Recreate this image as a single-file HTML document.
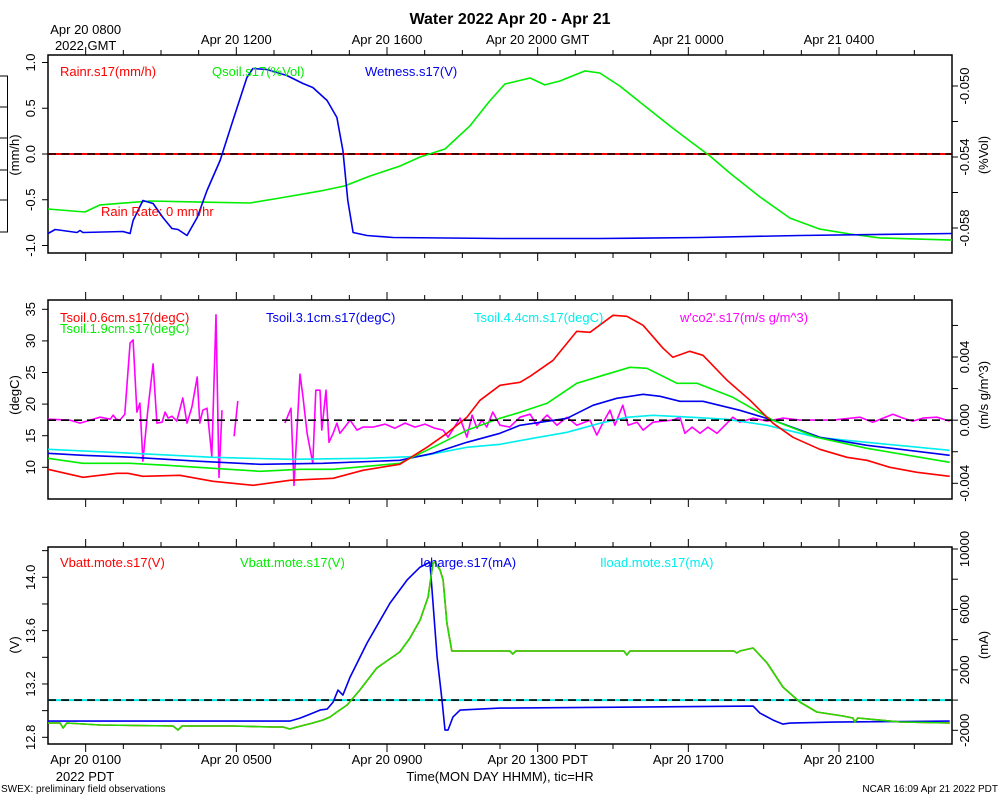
<!DOCTYPE html>
<html><head><meta charset="utf-8"><title>Water 2022 Apr 20 - Apr 21</title>
<style>
html,body{margin:0;padding:0;background:#fff;}
svg{display:block;font-family:"Liberation Sans",Arial,sans-serif;}
</style></head>
<body>
<svg id="chart" width="1000" height="800" viewBox="0 0 1000 800" xmlns="http://www.w3.org/2000/svg">
<rect x="0" y="0" width="1000" height="800" fill="#fff"/>
<text x="510" y="24" font-size="16" font-weight="bold" text-anchor="middle">Water 2022 Apr 20 - Apr 21</text>
<g stroke="#000" stroke-width="1">
<line x1="7.5" y1="76" x2="7.5" y2="232"/>
<line x1="0" y1="76" x2="8" y2="76"/><line x1="0" y1="107" x2="8" y2="107"/><line x1="0" y1="138" x2="8" y2="138"/>
<line x1="0" y1="170" x2="8" y2="170"/><line x1="0" y1="200" x2="8" y2="200"/><line x1="0" y1="232" x2="8" y2="232"/>
</g>
<g id="plots"></g>
<text x="500" y="781" font-size="13" text-anchor="middle">Time(MON DAY HHMM), tic=HR</text>
<text x="85" y="781" font-size="13" text-anchor="middle">2022 PDT</text>
<text x="1" y="792" font-size="10">SWEX: preliminary field observations</text>
<text x="998" y="792" font-size="10" text-anchor="end">NCAR 16:09 Apr 21 2022 PDT</text>
</svg>
<script>
// ---- data (hours since Apr 20 0000 PDT) ----
const topTickLabels = ["Apr 20 0800","Apr 20 1200","Apr 20 1600","Apr 20 2000 GMT","Apr 21 0000","Apr 21 0400"];
const bottomTickLabels = ["Apr 20 0100","Apr 20 0500","Apr 20 0900","Apr 20 1300 PDT","Apr 20 1700","Apr 20 2100"];
const labelHours = [1,5,9,13,17,21];

const wetT = [0,0.19,0.77,0.85,0.93,1.99,2.18,2.26,2.52,2.79,3.05,3.29,3.45,3.69,3.96,4.22,4.57,4.91,5.28,5.44,5.81,6.34,6.77,7.03,7.41,7.67,7.83,7.96,8.10,8.47,9.16,12.0,14.65,17.31,19.96,24];
const wetV = [-0.869,-0.825,-0.858,-0.836,-0.858,-0.847,-0.869,-0.727,-0.508,-0.541,-0.694,-0.814,-0.825,-0.891,-0.694,-0.399,-0.071,0.366,0.836,0.934,0.923,0.858,0.770,0.727,0.585,0.399,0.038,-0.508,-0.858,-0.891,-0.913,-0.923,-0.923,-0.913,-0.891,-0.869];
const qsoilT = [0,0.98,1.38,2.71,4.03,5.36,6.16,7.22,7.88,8.55,9.34,9.88,10.54,11.2,11.73,12.13,12.8,13.19,13.59,13.86,14.26,14.65,15.18,15.85,16.51,17.04,17.57,18.1,18.9,19.7,20.49,21.29,22.09,24];
const qsoilV = [-0.05693,-0.0571,-0.0567,-0.05648,-0.05654,-0.05659,-0.05631,-0.05592,-0.05563,-0.05507,-0.05451,-0.054,-0.05355,-0.05225,-0.05084,-0.04989,-0.04955,-0.04994,-0.04972,-0.04949,-0.04915,-0.04927,-0.05,-0.05113,-0.05225,-0.0531,-0.05394,-0.0549,-0.05625,-0.05744,-0.05806,-0.05834,-0.05856,-0.05868];
const rainT = [0,24];
const rainV = [0,0];

const t06T = [0,0.93,1.83,2.12,2.52,3.50,4.38,5.44,6.42,7.57,8.36,9.34,10.06,10.59,11.12,11.47,12.0,12.53,12.80,13.41,14.04,14.39,15.00,15.37,15.80,16.33,16.59,17.04,17.39,18.03,18.64,19.25,19.78,20.49,21.21,21.74,22.35,23.07,23.94];
const t06V = [9.68,8.42,9.05,9.05,8.58,8.73,7.78,7.15,7.94,8.26,9.53,10.47,13.16,15.38,17.91,20.6,22.97,23.45,24.40,26.93,31.52,31.36,34.05,33.89,32.47,28.83,27.41,28.35,27.72,23.77,20.6,16.96,14.75,12.85,11.58,11.11,10.0,9.21,8.58];
const t19T = [0,0.93,2.18,3.16,4.38,5.63,6.69,7.57,9.34,10.22,11.12,12.0,12.53,13.25,14.04,14.65,15.45,15.90,16.70,17.23,18.18,19.25,20.41,21.74,23.94];
const t19V = [11.42,10.63,10.63,10.32,9.84,9.37,9.68,9.68,10.63,13.16,15.85,17.75,18.70,20.13,23.29,24.40,25.82,25.66,23.29,23.29,21.08,17.44,14.75,13.0,10.79];
const t31T = [0,0.93,2.26,4.03,5.63,7.30,9.34,10.22,11.12,12.0,12.53,13.78,14.47,15.10,15.80,16.25,16.78,17.39,18.37,19.25,20.49,21.74,23.94];
const t31V = [12.22,11.90,11.58,10.95,10.47,10.63,11.11,12.22,13.96,15.38,16.65,17.75,19.81,20.92,21.55,21.23,20.44,20.44,19.02,17.44,14.75,13.48,11.90];
const t44T = [0,2.26,4.38,6.42,8.47,9.88,11.12,12.0,12.87,13.78,14.65,15.37,16.06,17.12,18.03,19.09,20.41,21.74,23.94];
const t44V = [12.85,12.22,11.58,11.27,11.42,11.74,13.16,13.64,14.59,15.54,16.96,17.91,18.23,17.91,17.59,16.65,14.75,13.96,12.69];
const co2T = [0,0.58,0.85,1.12,1.38,1.65,1.73,1.81,1.91,2.04,2.18,2.26,2.36,2.44,2.52,2.65,2.79,2.89,3.03,3.11,3.19,3.29,3.42,3.58,3.69,3.82,3.96,4.03,4.11,4.22,4.35,4.46,4.54,4.62,4.78,4.94,5.04,5.6,6.29,6.45,6.53,6.69,6.77,6.88,7.03,7.11,7.22,7.27,7.38,7.46,7.57,7.67,7.75,7.88,8.02,8.20,8.36,8.63,8.95,9.21,9.48,9.74,10.01,10.27,10.49,10.62,10.94,11.12,11.26,11.39,11.52,11.65,11.81,12.0,12.26,12.53,12.80,12.98,13.25,13.51,13.78,14.04,14.39,14.57,14.73,14.92,15.05,15.26,15.40,15.64,15.80,16.06,16.33,16.59,16.78,16.91,17.10,17.31,17.52,17.76,18.03,18.18,18.37,18.72,19.09,19.51,19.96,20.84,21.56,21.90,22.43,22.70,22.96,23.23,23.60,23.94];
const co2V = [0.06e-3,0,-0.19e-3,0,0.19e-3,0.06e-3,0.32e-3,0.06e-3,0,0.38e-3,4.89e-3,5.08e-3,0.51e-3,1.08e-3,-2.60e-3,0.63e-3,3.56e-3,-0.19e-3,-0.13e-3,0.51e-3,0.13e-3,0.25e-3,-0.06e-3,1.40e-3,-0.19e-3,0.83e-3,2.73e-3,-0.19e-3,0.63e-3,0.76e-3,-2.29e-3,6.67e-3,-3.62e-3,0.63e-3,null,-1.02e-3,1.21e-3,null,-0.19e-3,0.76e-3,-4.13e-3,2.92e-3,1.46e-3,-0.83e-3,-2.73e-3,1.90e-3,1.90e-3,-0.63e-3,1.90e-3,-1.40e-3,-0.83e-3,-0.19e-3,-0.83e-3,-0.44e-3,0,-0.63e-3,-0.44e-3,-0.44e-3,-0.25e-3,-0.51e-3,-0.19e-3,-0.44e-3,-0.25e-3,-0.51e-3,-0.63e-3,-1.08e-3,0.13e-3,-1.08e-3,0.32e-3,-0.51e-3,0,-0.44e-3,0.51e-3,-0.32e-3,-0.44e-3,0.19e-3,0.38e-3,-0.32e-3,0.32e-3,-0.32e-3,0.19e-3,-0.32e-3,0,-0.95e-3,-0.19e-3,0.63e-3,-0.32e-3,0.95e-3,-0.32e-3,-0.13e-3,-0.63e-3,-0.13e-3,-0.06e-3,0,0.19e-3,-0.83e-3,-0.44e-3,-0.83e-3,-0.44e-3,-0.83e-3,-0.19e-3,0.19e-3,-0.13e-3,0.13e-3,-0.06e-3,0.13e-3,0,0,0.19e-3,-0.13e-3,0.38e-3,0.13e-3,-0.06e-3,0.13e-3,0.19e-3,-0.06e-3];

const vbatT = [0,0.32,0.40,0.50,1.38,3.32,3.45,3.56,4.91,5.97,6.24,6.42,6.61,7.03,7.30,7.49,7.67,7.94,8.28,8.73,9.34,9.61,9.88,10.09,10.22,10.27,10.41,10.49,10.59,10.72,12.0,12.26,12.34,12.42,15.29,15.37,15.45,18.21,18.29,18.37,18.72,19.09,19.51,19.96,20.41,21.10,21.37,21.42,21.50,22.62,23.94];
const vbatV = [12.907,12.907,12.870,12.907,12.892,12.885,12.855,12.885,12.885,12.877,12.877,12.862,12.877,12.907,12.930,12.952,12.990,13.042,13.155,13.320,13.440,13.545,13.680,13.852,14.107,14.115,14.055,13.980,13.657,13.447,13.447,13.447,13.425,13.447,13.447,13.417,13.447,13.447,13.432,13.447,13.470,13.357,13.177,13.065,12.990,12.960,12.945,12.915,12.945,12.915,12.907];
const ichT = [0,6.42,6.69,6.96,7.22,7.41,7.57,7.70,7.83,8.02,8.47,9.08,9.53,9.88,10.14,10.33,10.46,10.54,10.62,10.75,10.94,12.0,18.72,18.90,19.25,19.51,19.70,20.84,23.94];
const ichV = [-1390,-1390,-1192,-927,-662,-596,-132,662,331,1523,3773,6421,7944,8805,9136,2847,0,-1986,-1986,-1125,-662,-530,-397,-861,-1324,-1589,-1523,-1456,-1390];
const iloadT = [0,24];
const iloadV = [0,0];

// ---- geometry ----
const X0 = 48, X1 = 952, H0 = 0, H1 = 24;
function xS(h){ return X0 + (h - H0) * (X1 - X0) / (H1 - H0); }
function lin(d0, d1, p0, p1){ return v => p0 + (v - d0) * (p1 - p0) / (d1 - d0); }
const p1L = lin(-1, 1, 245.5, 62.5), p1R = lin(-0.058, -0.050, 228, 86);
const p2L = lin(10, 35, 467.3, 309.3), p2R = lin(-0.004, 0.004, 483.3, 357);
const p3L = lin(12.8, 14.0, 737.3, 577.3), p3R = lin(-2000, 10000, 730.3, 549);

const NS = "http://www.w3.org/2000/svg";
const root = document.getElementById("plots");
function mk(tag, attrs, parent){ const e = document.createElementNS(NS, tag); for (const k in attrs) e.setAttribute(k, attrs[k]); (parent||root).appendChild(e); return e; }

function series(ts, vs, yS, color, name, w){
  let d = "", pen = false;
  for (let i = 0; i < ts.length; i++){
    if (vs[i] === null){ pen = false; continue; }
    d += (pen ? "L" : "M") + xS(ts[i]).toFixed(1) + "," + yS(vs[i]).toFixed(1);
    pen = true;
  }
  const p = mk("path", {d: d, fill: "none", stroke: color, "stroke-width": w || 1.6, "stroke-linejoin": "round"});
  
  
  return p;
}
function hline(y, color, dash, name){
  const l = mk("line", {x1: X0, x2: X1, y1: y, y2: y, stroke: color, "stroke-width": 1.6});
  if (dash) l.setAttribute("stroke-dasharray", "8,5");
  
  
}
function txt(x, y, s, color, size, anchor, name, rot){
  const t = mk("text", {x: x, y: y, fill: color, "font-size": size, "text-anchor": anchor || "start"});
  if (rot) t.setAttribute("transform", "rotate(-90 " + x + " " + y + ")");
  t.textContent = s;
  
  
  return t;
}
function frame(top, bot, name){
  const r = mk("rect", {x: X0, y: top, width: X1 - X0, height: bot - top, fill: "none", stroke: "#000", "stroke-width": 1.5});
  
  
  for (let h = 1; h < 24; h++){
    const x = xS(h), major = labelHours.indexOf(h) >= 0, len = major ? 8 : 5;
    mk("line", {x1: x, x2: x, y1: top, y2: top - len, stroke: "#000", "stroke-width": 1});
    mk("line", {x1: x, x2: x, y1: bot, y2: bot + len, stroke: "#000", "stroke-width": 1});
  }
}
function yTicks(vals, yS, side, labelled, name){
  vals.forEach((v, i) => {
    const y = yS(v);
    const x = side === "L" ? X0 : X1;
    const dx = side === "L" ? -6 : 6;
    mk("line", {x1: x, x2: x + dx, y1: y, y2: y, stroke: "#000", "stroke-width": 1});
    if (labelled[i] !== "") {
      const tx = side === "L" ? 35 : 969;
      txt(tx, y, labelled[i], "#000", 13, "middle", name, true);
    }
  });
}

// ---- panel 1 ----
frame(55, 253, "panel-water-frame");
labelHours.forEach((h, i) => { txt(xS(h), i === 0 ? 34 : 44, topTickLabels[i], "#000", 13, "middle", "top-tick-label"); });
txt(xS(1), 50, "2022 GMT", "#000", 13, "middle", "gmt-year-label");
yTicks([-1,-0.5,0,0.5,1], p1L, "L", ["-1.0","-0.5","0.0","0.5","1.0"], "y-tick-left-water");
yTicks([-0.058,-0.056,-0.054,-0.052,-0.050], p1R, "R", ["-0.058","","-0.054","","-0.050"], "y-tick-right-water");
txt(19, 155, "(mm/h)", "#000", 13, "middle", "y-axis-title-mmh", true);
txt(988, 155, "(%Vol)", "#000", 13, "middle", "y-axis-title-vol", true);
series(rainT, rainV, p1L, "#ff0000", "rainr-line", 2);
hline(p1L(0), "#000", true, "zero-line-water");
series(qsoilT, qsoilV, p1R, "#00ee00", "qsoil-line");
series(wetT, wetV, p1L, "#0000ee", "wetness-line");
txt(60, 76, "Rainr.s17(mm/h)", "#ff0000", 13, "start", "legend-rainr");
txt(212, 76, "Qsoil.s17(%Vol)", "#00ee00", 13, "start", "legend-qsoil");
txt(365, 76, "Wetness.s17(V)", "#0000ee", 13, "start", "legend-wetness");
txt(101, 216, "Rain Rate: 0 mm/hr", "#ff0000", 13, "start", "rain-rate-note");

// ---- panel 2 ----
frame(300, 499, "panel-tsoil-frame");
yTicks([10,15,20,25,30,35], p2L, "L", ["10","15","20","25","30","35"], "y-tick-left-tsoil");
yTicks([-0.004,-0.002,0,0.002,0.004,0.006], p2R, "R", ["-0.004","","0.000","","0.004",""], "y-tick-right-co2");
txt(19, 395, "(degC)", "#000", 13, "middle", "y-axis-title-degc", true);
txt(988, 395, "(m/s g/m^3)", "#000", 13, "middle", "y-axis-title-co2", true);
series(co2T, co2V, p2R, "#ff00ff", "wco2-line");
series(t44T, t44V, p2L, "#00eeee", "tsoil-4-4cm-line");
series(t31T, t31V, p2L, "#0000ee", "tsoil-3-1cm-line");
series(t19T, t19V, p2L, "#00ee00", "tsoil-1-9cm-line");
series(t06T, t06V, p2L, "#ff0000", "tsoil-0-6cm-line");
hline(p2R(0), "#000", true, "zero-line-tsoil");
txt(60, 322, "Tsoil.0.6cm.s17(degC)", "#ff0000", 13, "start", "legend-tsoil-0-6cm");
txt(60, 333, "Tsoil.1.9cm.s17(degC)", "#00ee00", 13, "start", "legend-tsoil-1-9cm");
txt(266, 322, "Tsoil.3.1cm.s17(degC)", "#0000ee", 13, "start", "legend-tsoil-3-1cm");
txt(474, 322, "Tsoil.4.4cm.s17(degC)", "#00eeee", 13, "start", "legend-tsoil-4-4cm");
txt(680, 322, "w'co2'.s17(m/s g/m^3)", "#ff00ff", 13, "start", "legend-wco2");

// ---- panel 3 ----
frame(547, 744, "panel-power-frame");
yTicks([12.8,13.0,13.2,13.4,13.6,13.8,14.0,14.2], p3L, "L", ["12.8","","13.2","","13.6","","14.0",""], "y-tick-left-volts");
yTicks([-2000,0,2000,4000,6000,8000,10000], p3R, "R", ["-2000","","2000","","6000","","10000"], "y-tick-right-ma");
txt(19, 645, "(V)", "#000", 13, "middle", "y-axis-title-volts", true);
txt(988, 645, "(mA)", "#000", 13, "middle", "y-axis-title-ma", true);
labelHours.forEach((h, i) => { txt(xS(h), 764, bottomTickLabels[i], "#000", 13, "middle", "bottom-tick-label"); });
series(iloadT, iloadV, p3R, "#00eeee", "iload-line", 2);
hline(p3R(0), "#000", true, "zero-line-power");
series(vbatT, vbatV, p3L, "#ff0000", "vbatt-red-line");
series(ichT, ichV, p3R, "#0000ee", "icharge-line");
series(vbatT, vbatV, p3L, "#22dd00", "vbatt-green-line");
txt(60, 567, "Vbatt.mote.s17(V)", "#ff0000", 13, "start", "legend-vbatt-red");
txt(240, 567, "Vbatt.mote.s17(V)", "#00ee00", 13, "start", "legend-vbatt-green");
txt(420, 567, "Icharge.s17(mA)", "#0000ee", 13, "start", "legend-icharge");
txt(600, 567, "Iload.mote.s17(mA)", "#00eeee", 13, "start", "legend-iload");
</script>
</body></html>
